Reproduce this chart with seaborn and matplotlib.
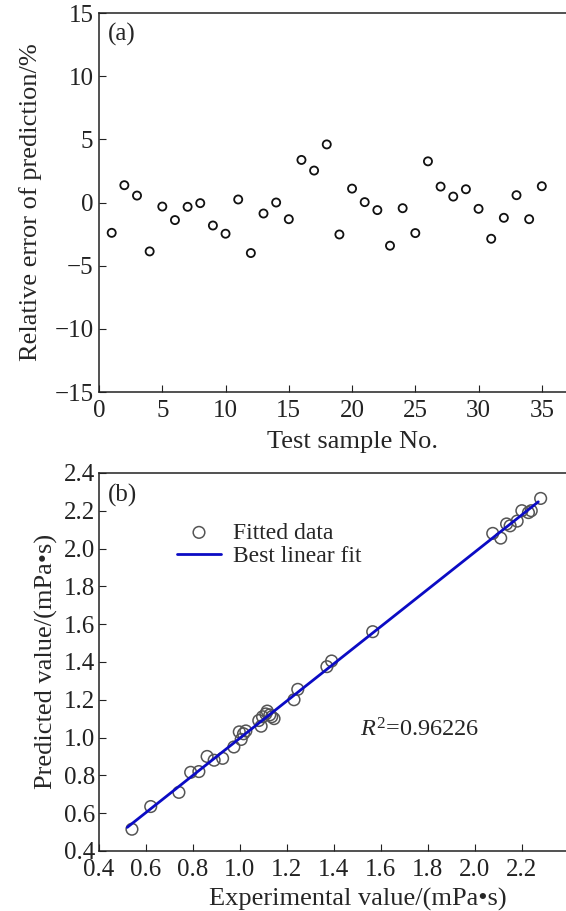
import numpy as np
import pandas as pd
import matplotlib
matplotlib.use('Agg')
import matplotlib.pyplot as plt
import seaborn as sns

# (a) relative error of prediction for each test sample
sample_no = list(range(1, 36))
rel_error = [-2.4, 1.37, 0.55, -3.87, -0.32, -1.39, -0.34, -0.05, -1.82, -2.47,
             0.24, -4.0, -0.87, 0.0, -1.32, 3.37, 2.53, 4.6, -2.53, 1.1,
             0.03, -0.6, -3.42, -0.45, -2.42, 3.26, 1.26, 0.47, 1.05, -0.5,
             -2.87, -1.21, 0.58, -1.32, 1.29]

# (b) experimental vs predicted viscosity (mPa·s)
experimental = [0.54, 0.62, 0.74, 0.79, 0.825, 0.86, 0.89, 0.926, 0.974, 0.997,
                1.005, 1.015, 1.025, 1.08, 1.09, 1.096, 1.116, 1.127, 1.135, 1.145,
                1.11, 1.23, 1.246, 1.37, 1.39, 1.565, 2.076, 2.11, 2.135, 2.15,
                2.18, 2.2, 2.228, 2.24, 2.28]
predicted = [0.515, 0.635, 0.71, 0.816, 0.82, 0.90, 0.88, 0.89, 0.95, 1.03,
             0.99, 1.02, 1.035, 1.09, 1.06, 1.11, 1.14, 1.12, 1.11, 1.10,
             1.125, 1.20, 1.255, 1.375, 1.405, 1.56, 2.08, 2.055, 2.13, 2.12,
             2.145, 2.2, 2.19, 2.2, 2.265]
r2_text = '0.96226'

sns.set_style('ticks')
plt.rcParams['font.family'] = ['Liberation Serif', 'DejaVu Serif']
plt.rcParams['mathtext.fontset'] = 'custom'
plt.rcParams['mathtext.rm'] = 'Liberation Serif'
plt.rcParams['mathtext.it'] = 'Liberation Serif:italic'
plt.rcParams['axes.edgecolor'] = '#222222'
plt.rcParams['axes.linewidth'] = 1.1
plt.rcParams['xtick.direction'] = 'in'
plt.rcParams['ytick.direction'] = 'in'
plt.rcParams['xtick.major.size'] = 5
plt.rcParams['ytick.major.size'] = 5
plt.rcParams['xtick.color'] = '#222222'
plt.rcParams['ytick.color'] = '#222222'

fs = 18
lfs = 19
fig = plt.figure(figsize=(5.66, 9.11), dpi=100)

df_a = pd.DataFrame({'sample': sample_no, 'error': rel_error})
ax1 = fig.add_axes([0.175, 0.5697, 0.894, 0.416])
sns.scatterplot(data=df_a, x='sample', y='error', ax=ax1, s=34,
                facecolor='none', edgecolor='#111111', linewidth=1.3)
ax1.set_xlim(0, 40)
ax1.set_ylim(-15, 15)
ax1.set_xticks(range(0, 36, 5))
ax1.set_yticks(range(-15, 16, 5))
ax1.tick_params(axis='y', labelsize=fs, pad=4)
ax1.tick_params(axis='x', labelsize=fs, pad=6)
ax1.set_xlabel('Test sample No.', fontsize=lfs, labelpad=6)
ax1.set_ylabel('Relative error of prediction/%', fontsize=lfs, labelpad=9)
ax1.spines['right'].set_visible(False)
ax1.text(0.018, 0.975, '(a)', transform=ax1.transAxes, fontsize=fs,
         ha='left', va='top')

df_b = pd.DataFrame({'experimental': experimental, 'predicted': predicted})
ax2 = fig.add_axes([0.175, 0.0659, 0.913, 0.415])
sns.scatterplot(data=df_b, x='experimental', y='predicted', ax=ax2, s=70,
                facecolor='none', edgecolor='#555555', linewidth=1.1,
                label='Fitted data', zorder=2)
slope, intercept = np.polyfit(experimental, predicted, 1)
fit_x = np.linspace(0.52, 2.27, 50)
sns.lineplot(x=fit_x, y=slope * fit_x + intercept, ax=ax2, color='#0b0bc4',
             linewidth=2, label='Best linear fit', zorder=3)
ax2.set_xlim(0.4, 2.6)
ax2.set_ylim(0.4, 2.4)
ax2.set_xticks(np.round(np.arange(0.4, 2.21, 0.2), 1))
ax2.set_yticks(np.round(np.arange(0.4, 2.41, 0.2), 1))
ax2.xaxis.set_major_formatter(matplotlib.ticker.FormatStrFormatter('%.1f'))
ax2.yaxis.set_major_formatter(matplotlib.ticker.FormatStrFormatter('%.1f'))
ax2.tick_params(axis='y', labelsize=fs, pad=3)
ax2.tick_params(axis='x', labelsize=fs, pad=6)
ax2.set_xlabel('Experimental value/(mPa\u2022s)', fontsize=lfs, labelpad=5)
ax2.set_ylabel('Predicted value/(mPa\u2022s)', fontsize=lfs, labelpad=4)
ax2.spines['right'].set_visible(False)
ax2.text(0.018, 0.97, '(b)', transform=ax2.transAxes, fontsize=fs,
         ha='left', va='top')
ax2.text(1.51, 1.04, r'$R^{2}$=' + r2_text, fontsize=17.5, ha='left', va='center')
ax2.legend(loc='upper left', bbox_to_anchor=(0.15, 0.87), frameon=False,
           fontsize=17, borderaxespad=0, borderpad=0, handlelength=1.9,
           handletextpad=0.5, labelspacing=0.1)

fig.savefig('out.png', dpi=100)
